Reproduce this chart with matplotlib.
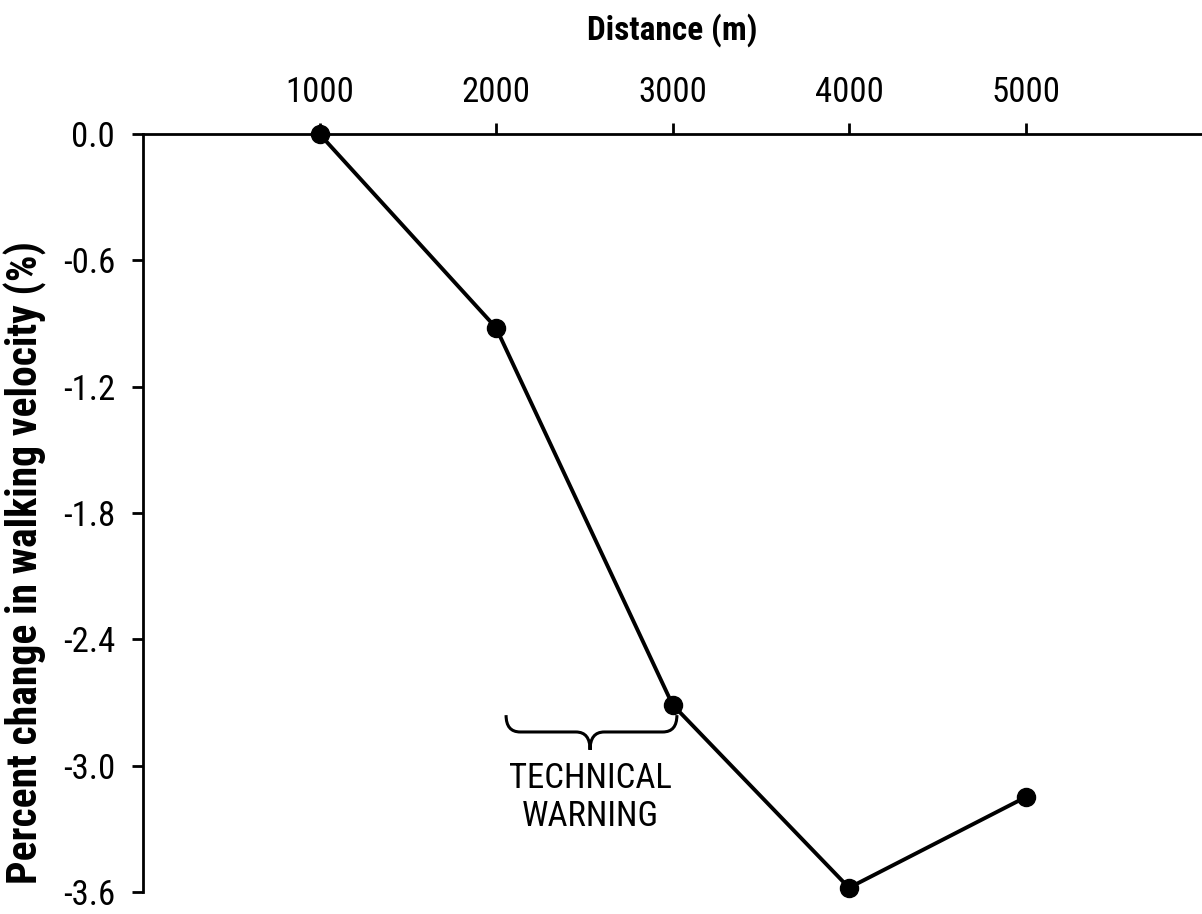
import matplotlib
matplotlib.use("Agg")
import matplotlib.pyplot as plt
from matplotlib.path import Path
from matplotlib.patches import PathPatch
from matplotlib.ticker import FixedLocator, FixedFormatter
from matplotlib import font_manager

distance = [1000, 2000, 3000, 4000, 5000]
pct_change = [0.0, -0.92, -2.71, -3.58, -3.15]
x_ticks = [1000, 2000, 3000, 4000, 5000]
x_tick_labels = ["1000", "2000", "3000", "4000", "5000"]
y_ticks = [0.0, -0.6, -1.2, -1.8, -2.4, -3.0, -3.6]
y_tick_labels = ["0.0", "-0.6", "-1.2", "-1.8", "-2.4", "-3.0", "-3.6"]

installed = {f.name for f in font_manager.fontManager.ttflist}
fams = [f for f in ['Liberation Sans Narrow', 'Roboto Condensed', 'Liberation Sans', 'DejaVu Sans'] if f in installed]
plt.rcParams['font.family'] = fams
plt.rcParams['axes.unicode_minus'] = False
narrow = fams[0] in ('Liberation Sans Narrow', 'Roboto Condensed')
tick_fs = 25 if narrow else 21
xlab_fs = 24 if narrow else 21
ylab_fs = 30 if narrow else 25
ann_fs = 25 if narrow else 21

fig = plt.figure(figsize=(12.02, 9.14), dpi=100)
ax = fig.add_axes([143/1202, 1-892/914, 1-143/1202, (892-134)/914])

ax.plot(distance, pct_change, color='black', lw=2.8, marker='o', ms=13,
        markerfacecolor='black', markeredgecolor='black', clip_on=False, zorder=5)

ax.set_xlim(0, 6000)
ax.set_ylim(-3.6, 0)

ax.xaxis.set_ticks_position('top')
ax.xaxis.set_label_position('top')
ax.spines['bottom'].set_visible(False)
ax.spines['right'].set_visible(False)
for s in ['top', 'left']:
    ax.spines[s].set_linewidth(2.0)
    ax.spines[s].set_color('black')

ax.xaxis.set_major_locator(FixedLocator(x_ticks))
ax.xaxis.set_major_formatter(FixedFormatter(x_tick_labels))
ax.yaxis.set_major_locator(FixedLocator(y_ticks))
ax.yaxis.set_major_formatter(FixedFormatter(y_tick_labels))

ax.tick_params(axis='x', direction='out', length=8, width=2.0, pad=10, labelsize=tick_fs)
ax.tick_params(axis='y', direction='out', length=8, width=2.0, pad=12, labelsize=tick_fs)

ax.set_xlabel("Distance (m)", fontsize=xlab_fs, fontweight='bold', labelpad=26)
ax.set_ylabel("Percent change in walking velocity (%)", fontsize=ylab_fs, fontweight='bold')
ax.yaxis.set_label_coords(-0.091, 0.435)

# Curly brace annotation
x0, x1, xm = 2057, 3025, 2533
yt, yh, ytip = -2.76, -2.84, -2.925
dx = 80
verts = [
    (x0, yt), (x0, yh), (x0 + dx, yh),
    (xm - dx, yh),
    (xm, yh), (xm, ytip),
    (xm, yh), (xm + dx, yh),
    (x1 - dx, yh),
    (x1, yh), (x1, yt),
]
codes = [Path.MOVETO, Path.CURVE3, Path.CURVE3,
         Path.LINETO,
         Path.CURVE3, Path.CURVE3,
         Path.CURVE3, Path.CURVE3,
         Path.LINETO,
         Path.CURVE3, Path.CURVE3]
ax.add_patch(PathPatch(Path(verts, codes), facecolor='none', edgecolor='black', lw=2.2, clip_on=False))
ax.text(xm, -3.15, "TECHNICAL\nWARNING", ha='center', va='center', fontsize=ann_fs,
        linespacing=1.2)

fig.savefig("out.png", dpi=100)
